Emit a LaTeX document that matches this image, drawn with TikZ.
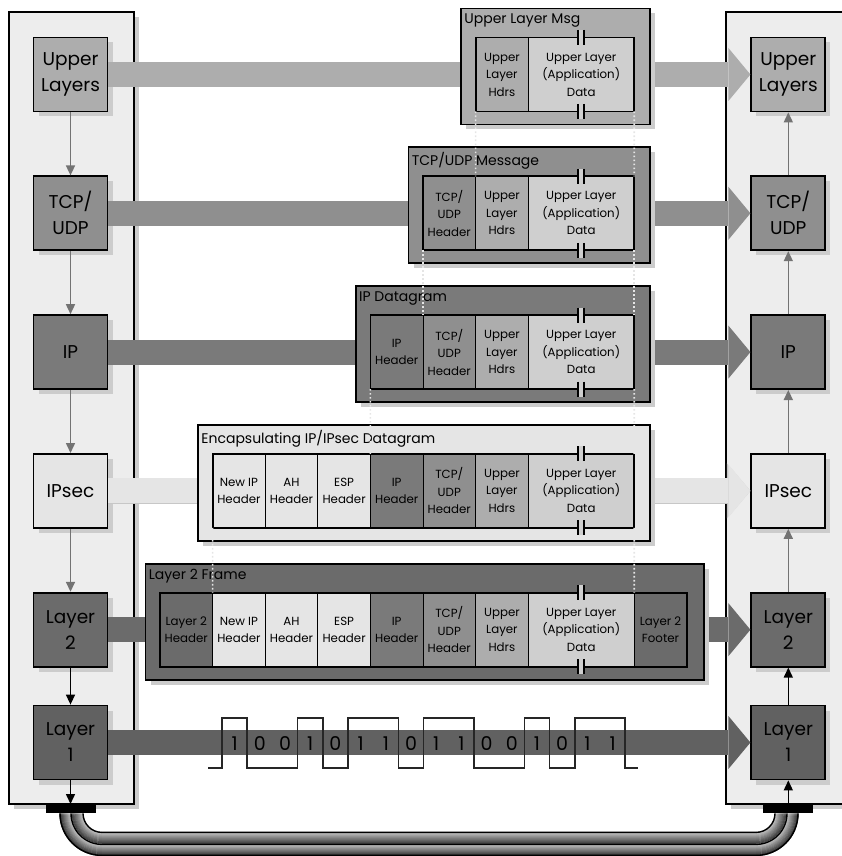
\documentclass[tikz,border=0pt]{standalone}
\usepackage{fontspec}
\setmainfont{Poppins}
\usetikzlibrary{arrows.meta,positioning,fit,shadows}
\definecolor{cpanel}{gray}{0.93}
\definecolor{cshade}{gray}{0.80}
\definecolor{cup}{gray}{0.68}
\definecolor{ctcp}{gray}{0.56}
\definecolor{cip}{gray}{0.48}
\definecolor{csec}{gray}{0.90}
\definecolor{cltwo}{gray}{0.42}
\definecolor{clone}{gray}{0.38}
\definecolor{cdata}{gray}{0.81}
\definecolor{cvarr}{gray}{0.45}
\tikzset{
  boxshadow/.style={drop shadow={shadow xshift=5pt,shadow yshift=-5pt,fill=cshade,opacity=1}},
  panel/.style    ={draw,line width=1.8pt,fill=cpanel,inner sep=0pt,boxshadow},
  layerbox/.style ={draw,line width=1.8pt,fill=#1,minimum width=74pt,minimum height=74pt,
                    inner sep=0pt,align=center,font=\fontsize{18.5}{26}\selectfont,boxshadow},
  msgframe/.style ={draw,line width=1.8pt,fill=#1,minimum height=116pt,inner sep=0pt,boxshadow},
  ttl/.style      ={anchor=north west,inner sep=0pt,font=\fontsize{14}{16}\selectfont},
  cell/.style     ={draw,line width=0.8pt,fill=#1,minimum width=52.6pt,minimum height=74pt,
                    inner sep=0pt,outer sep=0pt,align=center,font=\fontsize{11.8}{17.5}\selectfont},
  datacell/.style ={cell=cdata,minimum width=106pt},
  inbox/.style    ={draw,line width=1.8pt,inner sep=0pt},
  band/.style     ={line width=25pt,draw=#1,-{Triangle[width=53pt,length=22pt,line width=0pt]}},
  varr/.style     ={line width=1.5pt,draw=#1,-{Triangle[width=9pt,length=10pt]}},
  dotln/.style    ={draw=black!10,line width=1.6pt,dash pattern=on 1.6pt off 2.4pt},
  sig/.style      ={draw=black!85,line width=1.5pt},
  bit/.style      ={inner sep=0pt,font=\fontsize{19}{20}\selectfont},
  plug/.style     ={fill=black,minimum width=50pt,minimum height=9pt,inner sep=0pt}
}
\begin{document}
\begin{tikzpicture}[x=1pt,y=-1pt,node distance=63pt]
  \useasboundingbox (0,0) rectangle (842,856);

  % the two stacks
  \node (lpanel) [panel,minimum width=125pt,minimum height=792pt] at (71.5,408) {};
  \node (rpanel) [panel,minimum width=134pt,minimum height=792pt] at (793,408) {};

  \node (lup)  [layerbox=cup] at (70.5,74.5)       {Upper\\Layers};
  \node (ltcp) [layerbox=ctcp, below=of lup]       {TCP/\\UDP};
  \node (lip)  [layerbox=cip, below=of ltcp]       {IP};
  \node (lsec) [layerbox=csec, below=of lip]       {IPsec};
  \node (ll2)  [layerbox=cltwo, below=of lsec]     {Layer\\2};
  \node (ll1)  [layerbox=clone, below=37pt of ll2] {Layer\\1};

  \node (rup)  [layerbox=cup, right=642pt of lup]    {Upper\\Layers};
  \node (rtcp) [layerbox=ctcp, right=642pt of ltcp]  {TCP/\\UDP};
  \node (rip)  [layerbox=cip, right=642pt of lip]    {IP};
  \node (rsec) [layerbox=csec, right=642pt of lsec]  {IPsec};
  \node (rl2)  [layerbox=cltwo, right=642pt of ll2]  {Layer\\2};
  \node (rl1)  [layerbox=clone, right=642pt of ll1]  {Layer\\1};

  \node (lplug) [plug, below=23.6pt of ll1] {};
  \node (rplug) [plug, below=23.6pt of rl1] {};

  % wide arrows
  \draw [band=cup]   (lup) -- (rup);
  \draw [band=ctcp]  (ltcp) -- (rtcp);
  \draw [band=cip]   (lip) -- (rip);
  \draw [band=black!22,line width=26.6pt,-{Triangle[width=55pt,length=23.5pt,line width=0pt]}] (lsec) -- (rsec);
  \draw [band=csec]  (lsec) -- (rsec);
  \draw [band=cltwo] (ll2) -- (rl2);
  \draw [band=clone] (ll1) -- (rl1);

  % upper layer message
  \node (r1box) [msgframe=cup,minimum width=188.6pt] at (555.4,66.5) {};
  \node [ttl] at ([shift={(4,6)}]r1box.north west) {Upper Layer Msg};
  \node (r1ul) [cell=cup, right=367.2pt of lup] {Upper\\Layer\\Hdrs};
  \node (r1d)  [datacell, right=0pt of r1ul]    {Upper Layer\\(Application)\\Data};
  \node (r1in) [inbox, fit=(r1ul)(r1d)] {};

  % tcp/udp message
  \node (r2box) [msgframe=ctcp,minimum width=241.2pt] at (529.1,205.3) {};
  \node [ttl] at ([shift={(4,6)}]r2box.north west) {TCP/UDP Message};
  \node (r2th) [cell=ctcp, right=314.6pt of ltcp] {TCP/\\UDP\\Header};
  \node (r2ul) [cell=cup, right=0pt of r2th]      {Upper\\Layer\\Hdrs};
  \node (r2d)  [datacell, right=0pt of r2ul]      {Upper Layer\\(Application)\\Data};
  \node (r2in) [inbox, fit=(r2th)(r2d)] {};

  % ip datagram
  \node (r3box) [msgframe=cip,minimum width=293.8pt] at (502.8,344.1) {};
  \node [ttl] at ([shift={(4,6)}]r3box.north west) {IP Datagram};
  \node (r3ih) [cell=cip, right=262pt of lip] {IP\\Header};
  \node (r3th) [cell=ctcp, right=0pt of r3ih] {TCP/\\UDP\\Header};
  \node (r3ul) [cell=cup, right=0pt of r3th]  {Upper\\Layer\\Hdrs};
  \node (r3d)  [datacell, right=0pt of r3ul]  {Upper Layer\\(Application)\\Data};
  \node (r3in) [inbox, fit=(r3ih)(r3d)] {};

  % encapsulating datagram
  \node (r4box) [msgframe=csec,minimum width=451.6pt] at (423.9,482.9) {};
  \node [ttl] at ([shift={(4,6)}]r4box.north west) {Encapsulating IP/IPsec Datagram};
  \node (r4nip) [cell=csec, right=104.2pt of lsec] {New IP\\Header};
  \node (r4ah)  [cell=csec, right=0pt of r4nip]    {AH\\Header};
  \node (r4esp) [cell=csec, right=0pt of r4ah]     {ESP\\Header};
  \node (r4ih)  [cell=cip, right=0pt of r4esp]     {IP\\Header};
  \node (r4th)  [cell=ctcp, right=0pt of r4ih]     {TCP/\\UDP\\Header};
  \node (r4ul)  [cell=cup, right=0pt of r4th]      {Upper\\Layer\\Hdrs};
  \node (r4d)   [datacell, right=0pt of r4ul]      {Upper Layer\\(Application)\\Data};
  \node (r4in)  [inbox, fit=(r4nip)(r4d)] {};

  % layer 2 frame
  \node (r5box) [msgframe=cltwo,minimum width=558.2pt] at (424.6,621.7) {};
  \node [ttl] at ([shift={(4,6)}]r5box.north west) {Layer 2 Frame};
  \node (r5l2h) [cell=cltwo, right=51.6pt of ll2] {Layer 2\\Header};
  \node (r5nip) [cell=csec, right=0pt of r5l2h]   {New IP\\Header};
  \node (r5ah)  [cell=csec, right=0pt of r5nip]   {AH\\Header};
  \node (r5esp) [cell=csec, right=0pt of r5ah]    {ESP\\Header};
  \node (r5ih)  [cell=cip, right=0pt of r5esp]    {IP\\Header};
  \node (r5th)  [cell=ctcp, right=0pt of r5ih]    {TCP/\\UDP\\Header};
  \node (r5ul)  [cell=cup, right=0pt of r5th]     {Upper\\Layer\\Hdrs};
  \node (r5d)   [datacell, right=0pt of r5ul]     {Upper Layer\\(Application)\\Data};
  \node (r5l2f) [cell=cltwo, right=0pt of r5d]    {Layer 2\\Footer};
  \node (r5in)  [inbox, fit=(r5l2h)(r5l2f)] {};

  % payload edges
  \draw [dotln] (r1ul.south west) -- (r2ul.north west);
  \draw [dotln] (r1d.south east) -- (r2d.north east);
  \draw [dotln] (r2th.south west) -- (r3th.north west);
  \draw [dotln] (r2d.south east) -- (r3d.north east);
  \draw [dotln] (r3ih.south west) -- (r4ih.north west);
  \draw [dotln] (r3d.south east) -- (r4d.north east);
  \draw [dotln] (r4nip.south west) -- (r5nip.north west);
  \draw [dotln] (r4d.south east) -- (r5d.north east);

  % breaks in the data field
  \foreach \n in {r1d,r2d,r3d,r4d,r5d}
    \foreach \a in {north,south} {
      \fill [cdata] ([shift={(-3,-7.5)}]\n.\a) rectangle ([shift={(3,7.5)}]\n.\a);
      \draw [line width=1.6pt] ([shift={(-3,-7.5)}]\n.\a) -- ([shift={(-3,7.5)}]\n.\a)
                               ([shift={(3,-7.5)}]\n.\a) -- ([shift={(3,7.5)}]\n.\a);
    }

  % down the sending stack, up the receiving one
  \draw [varr=cvarr] (lup) -- (ltcp);
  \draw [varr=cvarr] (ltcp) -- (lip);
  \draw [varr=cvarr] (lip) -- (lsec);
  \draw [varr=cvarr] (lsec) -- (ll2);
  \draw [varr=black] (ll2) -- (ll1);
  \draw [varr=black] (ll1) -- (lplug);
  \draw [varr=black] (rplug) -- (rl1);
  \draw [varr=black] (rl1) -- (rl2);
  \draw [varr=cvarr] (rl2) -- (rsec);
  \draw [varr=cvarr] (rsec) -- (rip);
  \draw [varr=cvarr] (rip) -- (rtcp);
  \draw [varr=cvarr] (rtcp) -- (rup);

  % bits on the wire
  \draw [sig] (208,768) -- (222,768) -- (222,718) -- (247.2,718) -- (247.2,768)
    -- (297.6,768) -- (297.6,718) -- (322.8,718) -- (322.8,768) -- (348,768)
    -- (348,718) -- (398.4,718) -- (398.4,768) -- (423.6,768) -- (423.6,718)
    -- (474,718) -- (474,768) -- (524.4,768) -- (524.4,718) -- (549.6,718)
    -- (549.6,768) -- (574.8,768) -- (574.8,718) -- (625.2,718) -- (625.2,768) -- (638,768);
  \foreach \b [count=\i from 0] in {1,0,0,1,0,1,1,0,1,1,0,0,1,0,1,1}
    \node (bit\i) [bit] at ({222+25.2*(\i+0.5)},744) {\b};

  % cable
  \foreach \r in {19,...,42} {
    \pgfmathtruncatemacro{\tone}{\r<31 ? 22+58*(\r-19)/12 : 22+58*(\r-31)/11}
    \draw [line width=1.3pt,draw=black!\tone,rounded corners=\r pt]
      ([xshift=31.5pt-\r pt]lplug.south) -- ++(0,\r) -| ([xshift=\r pt-32.3pt]rplug.south);
  }
  \foreach \r in {19,31,42}
    \draw [line width=1.4pt,rounded corners=\r pt]
      ([xshift=31.5pt-\r pt]lplug.south) -- ++(0,\r) -| ([xshift=\r pt-32.3pt]rplug.south);
\end{tikzpicture}
\end{document}
